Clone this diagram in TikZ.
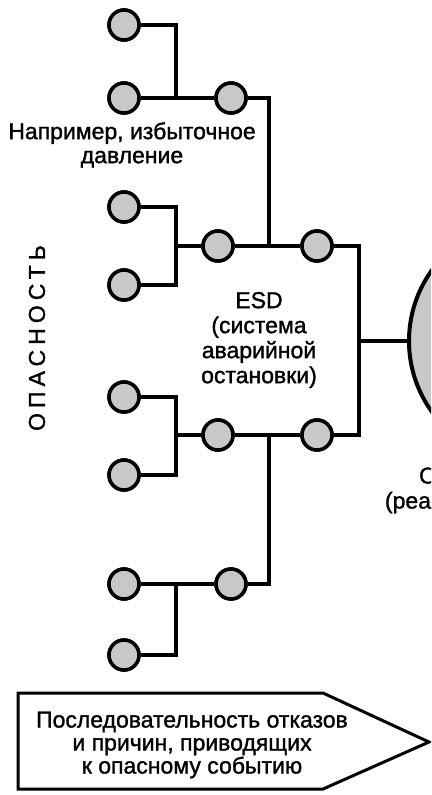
\documentclass[tikz,border=0pt]{standalone}
\usepackage{fontspec}
\setmainfont{Liberation Sans}[FakeBold=1.3]
\definecolor{fillgray}{RGB}{200,200,200}
\begin{document}
\begin{tikzpicture}[x=1pt,y=-1pt,
  ev/.style={circle,draw=black,fill=fillgray,line width=3.5pt,minimum size=30pt,inner sep=0pt},
  bigev/.style={circle,draw=black,fill=fillgray,line width=4pt,minimum size=242pt,inner sep=0pt},
  conn/.style={line width=3.5pt,draw=black},
  lbl/.style={align=center,font=\fontsize{23}{25}\selectfont,inner sep=0pt}]
\useasboundingbox (0,0) rectangle (431,795);
\clip (0,0) rectangle (431,795);
% event circles
\node[ev] (A1) at (124,25) {};
\node[ev] (A2) at (124,98) {};
\node[ev] (A3) at (231,98) {};
\node[ev] (B1) at (124,207) {};
\node[ev] (B2) at (124,285) {};
\node[ev] (B3) at (218,246) {};
\node[ev] (B4) at (317,246) {};
\node[ev] (C1) at (124,397) {};
\node[ev] (C2) at (124,475) {};
\node[ev] (C3) at (218,435) {};
\node[ev] (C4) at (317,435) {};
\node[ev] (D1) at (124,584) {};
\node[ev] (D2) at (124,655) {};
\node[ev] (D3) at (231,584) {};
\node[bigev] (E) at (530,341) {};
% junctions
\coordinate (jA) at (176,98);
\coordinate (jB) at (176,246);
\coordinate (jC) at (176,435);
\coordinate (jD) at (176,584);
\coordinate (kB) at (269,246);
\coordinate (kC) at (269,435);
\coordinate (R) at (359,341);
% connectors
\draw[conn] (A1) -| (jA);
\draw[conn] (A2) -- (A3);
\draw[conn] (A3) -| (kB);
\draw[conn] (B1) -| (jB);
\draw[conn] (B2) -| (jB);
\draw[conn] (jB) -- (B3);
\draw[conn] (B3) -- (B4);
\draw[conn] (C1) -| (jC);
\draw[conn] (C2) -| (jC);
\draw[conn] (jC) -- (C3);
\draw[conn] (C3) -- (C4);
\draw[conn] (D1) -- (D3);
\draw[conn] (D2) -| (jD);
\draw[conn] (D3) -| (kC);
\draw[conn] (B4) -| (R);
\draw[conn] (C4) -| (R);
\draw[conn] (R) -- (E);
% redraw circles on top
\foreach \n in {A1,A2,A3,B1,B2,B3,B4,C1,C2,C3,C4,D1,D2,D3}{\node[ev] at (\n) {};}
% labels
\node[lbl,font=\fontsize{23}{24}\selectfont] (pressure) at (132,145) {Например, избыточное\\давление};
\node[lbl] (esd) at (259,340) {ESD\\(система\\аварийной\\остановки)};
\node[lbl,rotate=90] (hazard) at (37,338) {\addfontfeature{LetterSpace=22}ОПАСНОСТЬ};
\node[lbl] (event) at (514,490) {Опасное событие\\(реализация опасности)};
% sequence arrow
\draw[line width=3pt,line join=miter] (18,693) -- (323,693) -- (429,742) -- (323,789) -- (18,789) -- cycle;
\node[lbl,font=\fontsize{23}{23}\selectfont] (seq) at (192,745) {Последовательность отказов\\и причин, приводящих\\к опасному событию};
\end{tikzpicture}
\end{document}
